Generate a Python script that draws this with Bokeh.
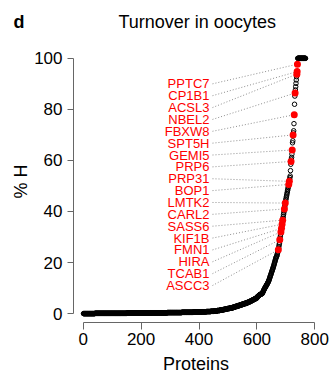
import numpy as np
from bokeh.plotting import figure
from bokeh.models import Range1d, FixedTicker, Label
from bokeh.embed import file_html
from bokeh.resources import INLINE
from bokeh.core.properties import value

# ---------------- data ----------------
# low part of the ranked curve: % H value and number of proteins at that value
low_values = [0.0, 0.1, 0.2, 0.3, 0.4, 0.5, 0.6, 0.7, 0.8, 0.9, 1.0, 1.2, 1.4, 1.6, 1.8,
              2.0, 2.2, 2.5, 2.8, 3.1, 3.4, 3.7, 4.0, 4.3, 4.6, 4.9, 5.2, 5.5, 5.8, 6.1]
low_counts = [40, 110, 80, 60, 50, 40, 25, 20, 15, 12, 10, 10, 10, 8, 8,
              8, 10, 8, 8, 8, 8, 8, 8, 6, 6, 5, 5, 5, 5, 4]
# steep tail, one value per protein
tail_values = [6.5, 6.6, 6.7, 6.8, 6.9, 7.0, 7.1, 7.2, 7.3, 7.4, 7.5, 7.5, 7.6, 7.6, 7.7, 7.7, 7.8, 7.8,
               8.0, 8.2, 8.5, 8.7, 9.0, 9.2, 9.5, 9.7,
               9.9, 10.1, 10.3, 10.5, 10.7, 10.9, 11.1, 11.3, 11.5, 11.7, 11.9, 12.1, 12.4, 12.6, 12.9,
               13.2, 13.5, 13.9, 14.2, 14.6, 14.9, 15.2, 15.6, 15.9, 16.3, 16.6, 16.9, 17.3, 17.6, 18.0, 18.3, 18.7,
               19.1, 19.5, 19.9, 20.3, 20.7, 21.1, 21.5, 21.9, 22.2, 22.4,
               22.6, 23.1, 23.6, 24.1, 24.6, 25.0, 25.6, 26.3, 27.0, 27.6,
               28.9, 29.5, 30.3, 31.0, 32.0, 32.7, 33.4, 34.1, 35.0, 35.8,
               36.6, 37.3, 38.0, 38.8, 39.5, 40.2, 41.0, 41.8, 42.5, 43.3,
               44.0, 44.6, 45.2, 45.8, 46.4, 47.0, 47.6, 48.2, 48.8, 49.4,
               50.0, 50.6, 51.2, 51.8, 52.6, 53.3, 53.9, 56.0, 58.5, 59.6,
               60.5, 61.2, 62.5, 64.1, 66.9, 67.7, 70.0, 70.8, 71.6, 74.4,
               77.9, 82.0, 85.2, 86.4, 87.6, 88.9, 90.2, 91.5, 92.8, 93.8,
               94.8, 97.7]
full_value = 100.0
full_count = 28

genes = ["PPTC7", "CP1B1", "ACSL3", "NBEL2", "FBXW8", "SPT5H", "GEMI5", "PRP6", "PRP31",
         "BOP1", "LMTK2", "CARL2", "SASS6", "KIF1B", "FMN1", "HIRA", "TCAB1", "ASCC3"]
gene_pct = [97.7, 94.8, 93.8, 86.4, 77.9, 70.0, 64.1, 59.6, 51.8,
            50.6, 43.3, 41.0, 36.6, 35.0, 33.4, 32.0, 28.9, 25.0]

x_ticks = [0, 200, 400, 600, 800]
y_ticks = [0, 20, 40, 60, 80, 100]

# ---------------- derived ----------------
pct = np.concatenate([np.repeat(low_values, low_counts), tail_values,
                      np.repeat([full_value], full_count)])
rank = np.arange(1, len(pct) + 1)
gene_rank = [int(rank[np.where(np.isclose(pct, v))[0][0]]) for v in gene_pct]

# ---------------- layout ----------------
W, H = 334, 376
FL, FR, FT, FB = 73, 16, 39, 52
FW, FH = W - FL - FR, H - FT - FB
XU = 800 / 231.6          # data units per pixel
YU = 100 / 258.0
x0 = -(82.7 - FL) * XU
x1 = x0 + FW * XU
y0 = -((FT + FH) - 315.0) * YU
y1 = y0 + FH * YU

def dx(px):
    return x0 + (px - FL) * XU

def dy(py):
    return y0 + (FT + FH - py) * YU

FONT = "Liberation Sans"

p = figure(width=W, height=H, output_backend="svg", toolbar_location=None,
           x_range=Range1d(x0, x1), y_range=Range1d(y0, y1),
           min_border_left=FL, min_border_right=FR, min_border_top=FT, min_border_bottom=FB)
p.outline_line_color = None
p.xgrid.visible = False
p.ygrid.visible = False
p.background_fill_color = "white"
p.border_fill_color = "white"

p.title.text = "Turnover in oocytes"
p.title.align = "left"
p.title.offset = 45
p.title.text_font = FONT
p.title.text_font_size = "18px"
p.title.text_font_style = "normal"
p.title.text_color = "black"
p.title.standoff = 18

for ax in (p.xaxis[0], p.yaxis[0]):
    ax.axis_line_color = "#666666"
    ax.major_tick_line_color = "#666666"
    ax.minor_tick_line_color = None
    ax.major_tick_in = 0
    ax.major_label_text_font = FONT
    ax.major_label_text_font_size = "17px"
    ax.major_label_text_color = "black"
    ax.axis_label_text_font = FONT
    ax.axis_label_text_font_size = "18px"
    ax.axis_label_text_font_style = "normal"
    ax.axis_label_text_color = "black"

p.xaxis.ticker = FixedTicker(ticks=x_ticks)
p.xaxis.bounds = (x_ticks[0], x_ticks[-1])
p.xaxis.major_tick_out = 7
p.xaxis.major_label_standoff = 3
p.xaxis.axis_label = "Proteins"
p.xaxis.axis_label_standoff = 6

p.yaxis.ticker = FixedTicker(ticks=y_ticks)
p.yaxis.bounds = (y_ticks[0], y_ticks[-1])
p.yaxis.major_tick_out = 6
p.yaxis.major_label_standoff = 5
p.yaxis.major_label_orientation = "horizontal"
p.yaxis.axis_label = "% H"
p.yaxis.axis_label_standoff = 0

# label positions (layout)
label_y = np.linspace(90, 11, len(genes))
label_x = dx(209)
line_x = dx(212)

p.segment(x0=[line_x] * len(genes), y0=label_y, x1=gene_rank, y1=gene_pct,
          line_color="#8f8f8f", line_dash="1 2", line_width=1)
p.scatter(rank, pct, marker="circle", size=4.5, fill_color=None,
          line_color="black", line_width=1)
p.scatter(gene_rank, gene_pct, marker="circle", size=7, fill_color="#ff0000",
          line_color=None)
p.text(x=[label_x] * len(genes), y=label_y, text=genes, text_font=value(FONT),
       text_font_size=value("13px"), text_align="right", text_baseline="middle",
       text_color="#ff0000")

# panel letter, kept in the (wide enough) right border so it is not clipped by the frame
p.add_layout(Label(x=dx(13), y=dy(20), text="d", text_font=FONT,
                   text_font_size="18px", text_font_style="bold", text_align="left",
                   text_baseline="alphabetic", text_color="black"), "right")

open("out.html", "w").write(file_html(p, INLINE))
